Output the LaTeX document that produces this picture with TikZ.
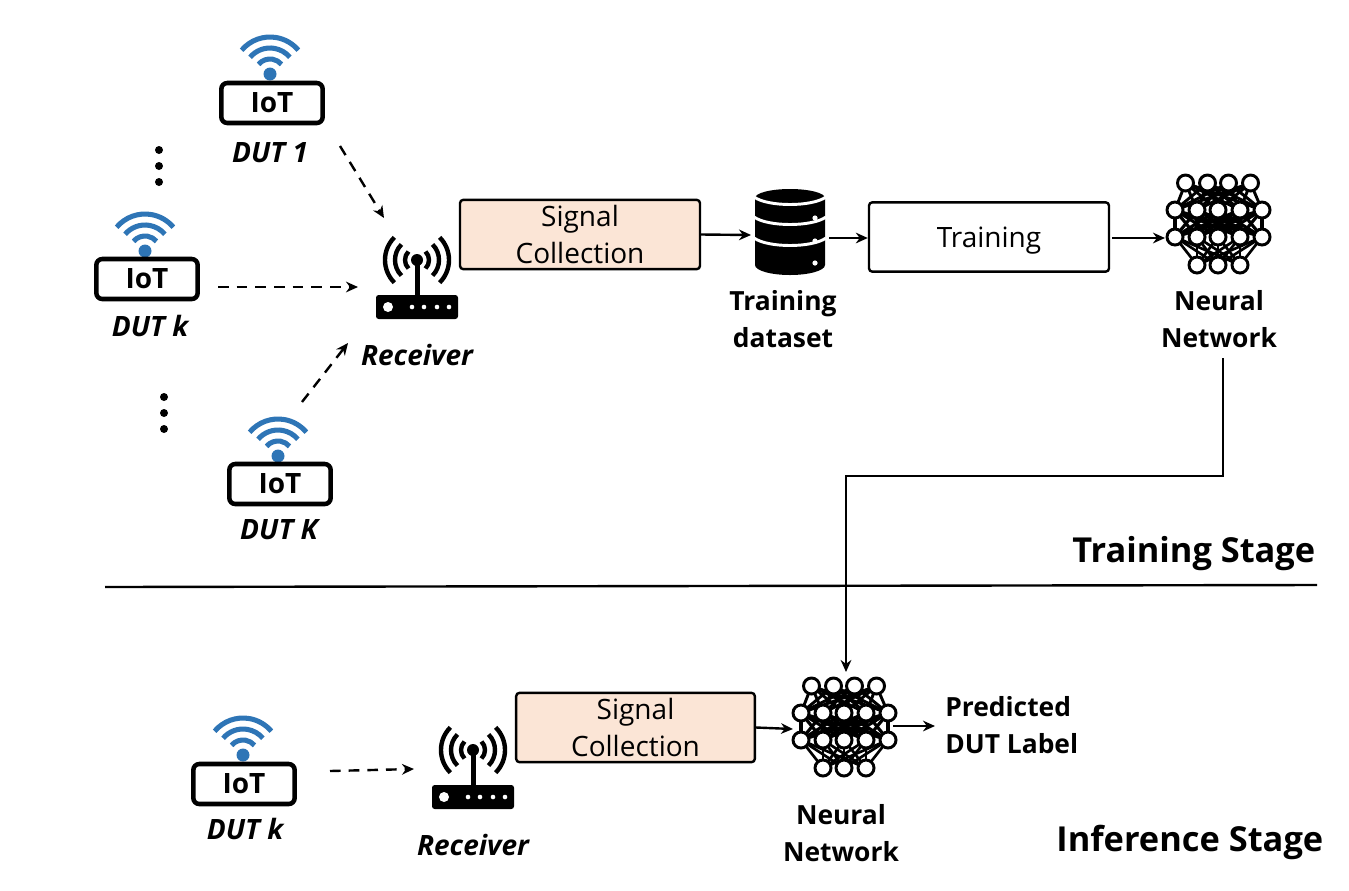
\documentclass[tikz,border=0pt]{standalone}
\usepackage{fontspec}
\setmainfont{Open Sans}
\usetikzlibrary{arrows.meta, positioning}
\definecolor{wifiblue}{HTML}{2E75B6}
\definecolor{signalfill}{HTML}{FBE5D6}
\tikzset{
    pics/wifi/.style={code={
        \foreach \r in {15,26,37}
            \draw[wifiblue, line width=3.8pt] (-140:\r) arc[start angle=-140, end angle=-40, radius=\r];
        \fill[wifiblue] (0,0) circle[radius=6.5];
    }},
    pics/receiver/.style={code={
        \fill[rounded corners=2pt] (-41,35) rectangle (41,59);
        \fill (-2.5,0) rectangle (2.5,36);
        \fill (0,0) circle[radius=6];
        \fill[white] (-29,47) circle[radius=5];
        \foreach \x in {-5,7,20,32}
            \fill[white] (\x,47) circle[radius=2.3];
        \foreach \r in {12,22,32} {
            \draw[line width=3.3pt] (-45:\r) arc[start angle=-45, end angle=45, radius=\r];
            \draw[line width=3.3pt] (-135:\r) arc[start angle=-135, end angle=-225, radius=\r];
        }
    }},
    pics/database/.style={code={
        \fill (-35,-37) -- (-35,30) arc[start angle=180, end angle=360, x radius=35, y radius=-10] -- (35,-37)
            arc[start angle=0, end angle=180, x radius=35, y radius=-9] -- cycle;
        \foreach \y in {-38,-18,3}
            \draw[white, line width=2.2pt] (-36,\y) .. controls (-22,\y+10) and (22,\y+10) .. (36,\y);
        \foreach \y in {-17,6,28}
            \fill[white] (25,\y) circle[radius=2.6];
    }},
    pics/neuralnet/.style={code={
        \foreach \i in {-32.5,-10.5,10.5,32.5} \foreach \j in {-43,-21,0,22,44}
            \draw[line width=2.2pt] (\i,-41) -- (\j,-14);
        \foreach \i in {-43,-21,0,22,44} \foreach \j in {-43,-21,0,22,44}
            \draw[line width=2.4pt] (\i,-14) -- (\j,13);
        \foreach \i in {-43,-21,0,22,44} \foreach \j in {-21,0,22}
            \draw[line width=2pt] (\i,13) -- (\j,41);
        \foreach \i in {-32.5,-10.5,10.5,32.5}
            \draw[netnode] (\i,-41) circle[radius=8];
        \foreach \i in {-43,-21,0,22,44} {
            \draw[netnode] (\i,-14) circle[radius=8];
            \draw[netnode] (\i,13) circle[radius=8];
        }
        \foreach \i in {-21,0,22}
            \draw[netnode] (\i,41) circle[radius=8];
    }},
}
\begin{document}
\begin{tikzpicture}[x=0.75pt, y=-0.75pt,
    % Styles
    netnode/.style={draw=black, fill=white, line width=2.2pt},
    iot box/.style={draw, line width=3.4pt, rounded corners=4.5pt, minimum width=76pt, minimum height=30pt, inner sep=0pt, font=\fontsize{21}{25}\selectfont\bfseries},
    dut label/.style={font=\fontsize{21}{25}\selectfont\bfseries\itshape},
    bold label/.style={align=center, font=\fontsize{19.8}{28}\selectfont\bfseries},
    stage label/.style={font=\fontsize{25.8}{30}\selectfont\bfseries},
    signal box/.style={draw, line width=1.8pt, rounded corners=2.5pt, fill=signalfill, minimum height=52pt, inner sep=0pt, align=center, font=\fontsize{21}{28}\selectfont},
    flow/.style={-{Stealth[length=9pt, width=8pt]}, line width=1.8pt},
    radio/.style={-{Stealth[length=9pt, width=8pt]}, line width=1.8pt, dash pattern=on 8pt off 6pt},
]
    \useasboundingbox (0,0) rectangle (1349,890);

    % Devices of the training stage
    \pic at (270,74) {wifi};
    \node[iot box] (iot1) at (272,103) {IoT};
    \node[dut label] (dut1) at (270,153) {DUT 1};
    \pic at (145,251) {wifi};
    \node[iot box] (iotk) at (147,279) {IoT};
    \node[dut label] (dutk) at (150,326) {DUT k};
    \pic at (278,456) {wifi};
    \node[iot box] (iotK) at (280,484) {IoT};
    \node[dut label] (dutK) at (279,530) {DUT K};

    % Dots between devices
    \foreach \y in {150,166,182} \fill (159,\y) circle[radius=4];
    \foreach \y in {397,413,429} \fill (164,\y) circle[radius=4];

    % Receiver and the training chain
    \pic at (417,260) {receiver};
    \node[dut label] (rxlabel) at (417,355) {Receiver};
    \node[signal box, minimum width=180pt] (signal) at (580,234.5) {Signal\\Collection};
    \pic at (790,235) {database};
    \coordinate (dbin) at (751,235);
    \coordinate (dbout) at (829,238);
    \node[bold label] (dataset) at (783,319) {Training\\dataset};
    \node[draw, line width=1.8pt, rounded corners=2.5pt, minimum width=180pt, minimum height=52pt, inner sep=0pt, text height=17pt, text depth=1.6pt, font=\fontsize{21}{25}\selectfont] (training) at (989,237) {Training};
    \pic at (1218,224) {neuralnet};
    \coordinate (trainout) at (1112,238);
    \coordinate (netin) at (1165,238);
    \coordinate (netout) at (1223,358);
    \node[bold label] (netlabel) at (1219,319) {Neural\\Network};

    % Dashed links to the receiver
    \coordinate (a1) at (340,146);
    \coordinate (b1) at (384,218);
    \coordinate (a2) at (218,287);
    \coordinate (b2) at (358,287);
    \coordinate (a3) at (302,402);
    \coordinate (b3) at (348,343);
    \draw[radio] (a1) -- (b1);
    \draw[radio] (a2) -- (b2);
    \draw[radio] (a3) -- (b3);

    % Training chain arrows
    \draw[flow] (signal.east) -- (dbin);
    \draw[flow] (dbout) -- (dbout -| training.west);
    \draw[flow] (trainout) -- (netin);

    % Split between the stages
    \coordinate (splitl) at (105,587);
    \coordinate (splitr) at (1317,585);
    \draw[line width=1.8pt] (splitl) -- (splitr);
    \node[stage label, anchor=east] (trainstage) at (1320,554) {Training Stage};
    \node[stage label, anchor=east] (inferstage) at (1328,842) {Inference Stage};

    % Inference stage
    \pic at (243,755) {wifi};
    \node[iot box] (iotl) at (244,784) {IoT};
    \node[dut label] (dutl) at (245,829) {DUT k};
    \pic at (473,750) {receiver};
    \node[dut label] (rxl) at (473,845) {Receiver};
    \node[signal box, minimum width=179pt] (signall) at (635.5,727.5) {Signal\\Collection};
    \pic at (844,727) {neuralnet};
    \node[bold label] (netl) at (841,833) {Neural\\Network};
    \node[bold label, align=left, anchor=west, inner sep=0pt] (predicted) at (945,725) {Predicted\\DUT Label};
    \coordinate (a4) at (330,771);
    \coordinate (b4) at (414,769);
    \coordinate (netlin) at (793,729);
    \coordinate (netlout) at (893,726);
    \coordinate (predin) at (935,726);
    \coordinate (nettop) at (846,672);
    \draw[radio] (a4) -- (b4);
    \draw[flow] (signall.east) -- (netlin);
    \draw[flow] (netlout) -- (predin);

    % Model handed to the inference stage
    \draw[flow] (netout) |- (846,476) -- (nettop);
\end{tikzpicture}
\end{document}
